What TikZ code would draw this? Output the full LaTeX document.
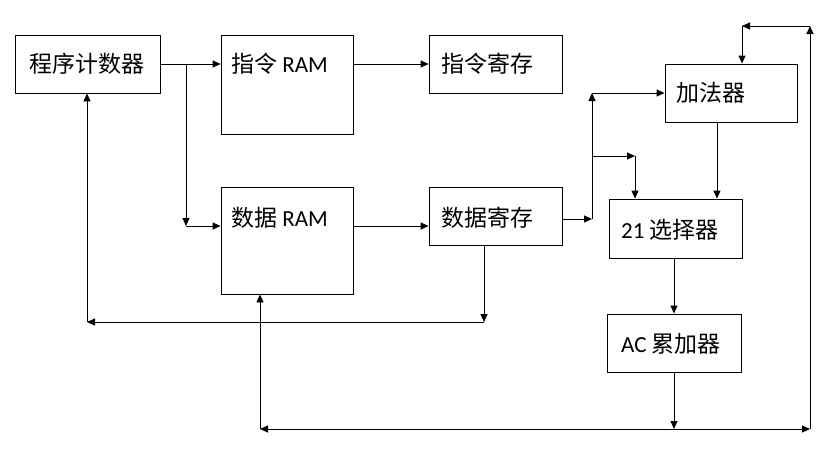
\documentclass[tikz,border=0pt]{standalone}
\usepackage{fontspec}
\setmainfont{Carlito}
\newfontfamily\cjk{Noto Sans CJK SC}
\usetikzlibrary{arrows.meta}
\begin{document}
\begin{tikzpicture}[x=1pt,y=-1pt,
  box/.style={draw, line width=0.9pt, inner sep=0pt},
  txt/.style={font=\fontsize{23}{26}\selectfont, inner sep=0pt, anchor=west},
  ln/.style={line width=0.9pt},
  arr/.style={line width=0.9pt, -{Triangle[length=8pt,width=7pt]}},
  darr/.style={line width=0.9pt, {Triangle[length=8pt,width=7pt]}-{Triangle[length=8pt,width=7pt]}}]
\useasboundingbox (0,0) rectangle (836,461);
% boxes
\node[box, minimum width=145pt, minimum height=58pt] (pc) at (87.5,64) {};
\node[box, minimum width=132pt, minimum height=99pt] (iram) at (287,84.5) {};
\node[box, minimum width=133pt, minimum height=58pt] (ireg) at (495.5,64) {};
\node[box, minimum width=132pt, minimum height=107pt] (dram) at (287,240.5) {};
\node[box, minimum width=133pt, minimum height=58pt] (dreg) at (495.5,216.5) {};
\node[box, minimum width=132pt, minimum height=58pt] (add) at (731,93) {};
\node[box, minimum width=133pt, minimum height=59pt] (sel) at (675.5,228.5) {};
\node[box, minimum width=134pt, minimum height=58pt] (ac) at (674,343) {};
% texts
\node[txt, anchor=center] (pct) at (87.5,64) {\cjk 程序计数器};
\node[txt] (iramt) at (231,64) {{\cjk 指令} RAM};
\node[txt] (iregt) at (441,64) {\cjk 指令寄存};
\node[txt] (dramt) at (231,218) {{\cjk 数据} RAM};
\node[txt] (dregt) at (441,218) {\cjk 数据寄存};
\node[txt] (addt) at (676,93) {\cjk 加法器};
\node[txt] (selt) at (621,230) {21 {\cjk 选择器}};
\node[txt, anchor=center] (act) at (671,344) {AC {\cjk 累加器}};
% junction coordinates
\coordinate (j1) at (186,64);
\coordinate (j2) at (186,226);
\coordinate (k1) at (592,219);
\coordinate (k2) at (592,93);
\coordinate (k3) at (592,156);
\coordinate (k4) at (635,156);
\coordinate (b1) at (260,429);
\coordinate (b2) at (810,429);
\coordinate (b3) at (810,26);
\coordinate (b4) at (742,26);
\coordinate (b5) at (674,429);
\coordinate (f1) at (484,322);
\coordinate (f2) at (87,322);
% connectors
\draw[arr] (pc.east |- j1) -- (iram.west |- j1);
\draw[arr] (j1) -- (j2);
\draw[arr] (j2) -- (dram.west |- j2);
\draw[arr] (iram.east |- j1) -- (ireg.west |- j1);
\draw[arr] (dram.east |- j2) -- (dreg.west |- j2);
\draw[arr] (dreg.east |- k1) -- (k1);
\draw[arr] (k1) -- (k2);
\draw[arr] (k2) -- (add.west |- k2);
\draw[arr] (k3) -- (k4);
\draw[arr] (k4) -- (sel.north -| k4);
\draw[arr] (add.south -| 717,0) -- (sel.north -| 717,0);
\draw[arr] (sel.south -| ac) -- (ac.north);
\draw[arr] (ac.south) -- (b5);
\draw[darr] (b1) -- (b2);
\draw[arr] (b2) -- (b3);
\draw[arr] (b3) -- (b4);
\draw[arr] (b4) -- (add.north -| b4);
\draw[arr] (b1) -- (dram.south -| b1);
\draw[arr] (dreg.south -| f1) -- (f1);
\draw[arr] (f1) -- (f2);
\draw[arr] (f2) -- (pc.south -| f2);
\end{tikzpicture}
\end{document}
